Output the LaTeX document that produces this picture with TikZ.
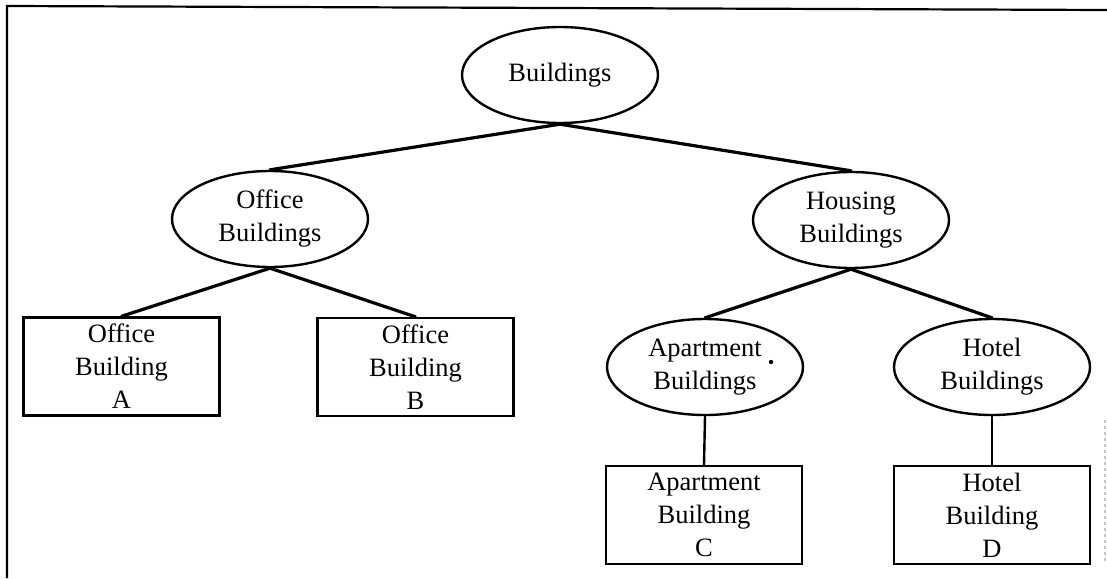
\documentclass[tikz,border=0pt]{standalone}
\usepackage{fontspec}
\setmainfont{Liberation Serif}
\usetikzlibrary{shapes.geometric}
\begin{document}
\begin{tikzpicture}[x=1pt,y=-1pt,
  lbl/.style={font=\fontsize{26.5}{33}\selectfont, align=center, text=black, inner sep=0pt},
  oval/.style={lbl, ellipse, draw, line width=2.4pt, minimum width=196pt, minimum height=96pt},
  leaf/.style={lbl, rectangle, draw, line width=2.4pt, minimum width=196pt, minimum height=98pt},
  link/.style={line width=3.2pt, line cap=round}]
\useasboundingbox (0,0) rectangle (1107,578);
\fill[white] (0,0) rectangle (1107,578);

% outer frame
\draw[line width=2.2pt] (7,578) -- (7,6) -- (1107,10);
\draw[gray!45, line width=1.2pt, dashed] (1105,420) -- (1105,562);

% hierarchy nodes
\node[oval] (root) at (560,75) {Buildings};
\node[oval] (office) at (270,219) {Office\\Buildings};
\node[oval] (housing) at (851,220) {Housing\\Buildings};
\node[oval] (apt) at (705,367) {Apartment\\Buildings};
\node[oval] (hotel) at (992,367) {Hotel\\Buildings};

\node[leaf] (bA) at (121.5,366.5) {Office\\Building\\A};
\node[leaf] (bB) at (415.5,367) {Office\\Building\\B};
\node[leaf] (bC) at (704,515) {Apartment\\Building\\C};
\node[leaf] (bD) at (992,515) {Hotel\\Building\\D};

% stray mark beside "Apartment"
\fill (771,362) circle (2.2pt);

% connectors
\draw[link] (root.south) -- (office.north);
\draw[link] (root.south) -- (housing.north);
\draw[link] (office.south) -- (bA.north);
\draw[link] (office.south) -- (bB.north);
\draw[link] (housing.south) -- (apt.north);
\draw[link] (housing.south) -- (hotel.north);
\draw[line width=2.4pt] (apt.south) -- (bC.north);
\draw[line width=2.4pt] (hotel.south) -- (bD.north);
\end{tikzpicture}
\end{document}
